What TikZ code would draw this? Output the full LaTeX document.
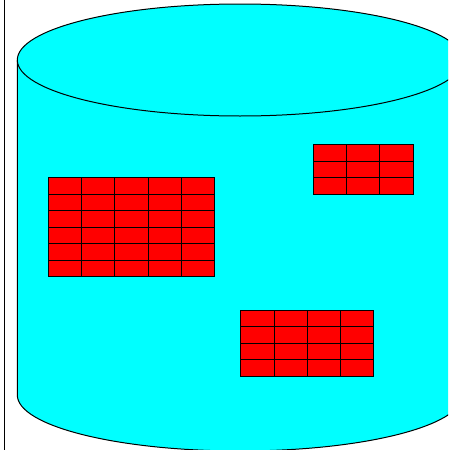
\documentclass[tikz,border=0pt]{standalone}
\definecolor{cylcyan}{RGB}{0,255,255}
\definecolor{cellred}{RGB}{255,0,0}
\begin{document}
\begin{tikzpicture}[x=1pt,y=-1pt,line width=1pt,
  cyl/.style={draw=black,fill=cylcyan},
  cellbox/.style={draw=black,fill=cellred}]
\useasboundingbox (0,0) rectangle (448,450);
\fill[white] (0,0) rectangle (448,450);
\draw[black] (4.5,0) -- (4.5,450);
\begin{scope}
\clip (0,0) rectangle (448,450);
% cylinder body and top
\fill[cylcyan] (17.3,60) -- (17.3,395) arc[start angle=180,end angle=360,x radius=222.7,y radius=-56] -- (462.7,60) -- cycle;
\draw[black] (17.3,60) -- (17.3,395) arc[start angle=180,end angle=360,x radius=222.7,y radius=-56];
\draw[cyl] (240,60) ellipse[x radius=222.7,y radius=56];
\end{scope}
% red tables
\foreach \xo/\yo/\nc/\nr in {48.5/177.5/5/6,313.5/144.5/3/3,240.8/310/4/4}{
  \foreach \i in {1,...,\nc}{
    \foreach \j in {1,...,\nr}{
      \draw[cellbox] ({\xo+(\i-1)*33.2},{\yo+(\j-1)*16.55}) rectangle ({\xo+\i*33.2},{\yo+\j*16.55});
    }
  }
}
\end{tikzpicture}
\end{document}
